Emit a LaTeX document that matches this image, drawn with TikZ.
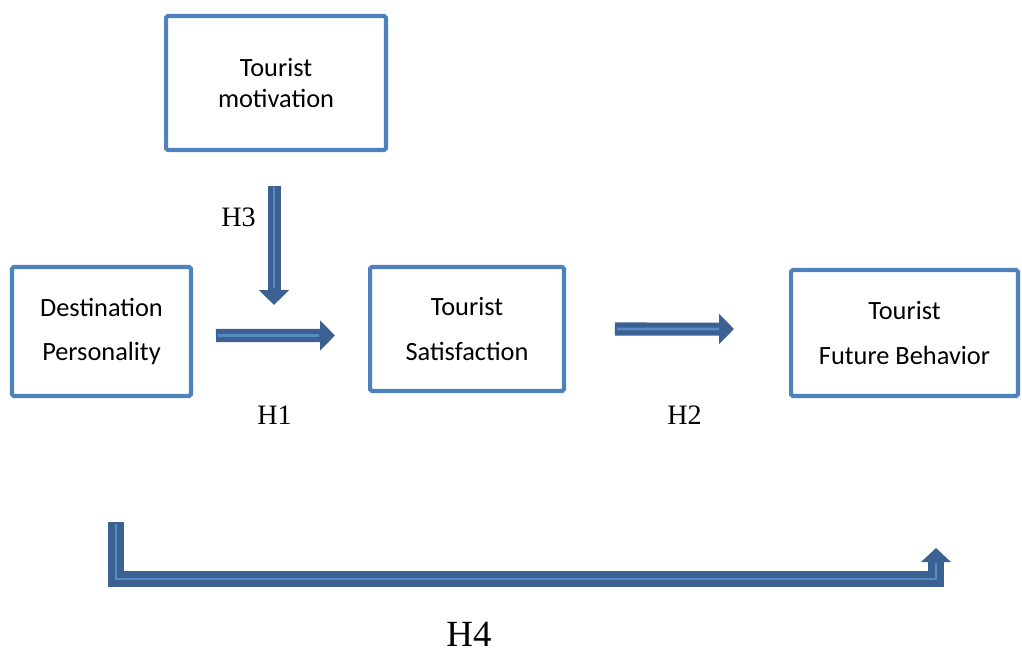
\documentclass[tikz,border=0pt]{standalone}
\usepackage{fontspec}
\setmainfont{Liberation Serif}
\newfontfamily\boxfont{Carlito}
\usetikzlibrary{arrows.meta,calc}
\definecolor{boxblue}{RGB}{79,129,189}
\definecolor{arrowblue}{RGB}{59,96,146}
\definecolor{glintblue}{RGB}{88,138,196}
\tikzset{
  conceptbox/.style={draw=boxblue, line width=2.3pt, rounded corners=1pt,
    fill=white, inner sep=0pt, align=center, text=black},
  tightlines/.style={font=\boxfont\fontsize{15}{18.1}\selectfont},
  widelines/.style={font=\boxfont\fontsize{15}{25.5}\selectfont},
  shaftarrow/.style={draw=arrowblue, line width=7.4pt, line cap=butt,
    -{Triangle[length=8.5pt,width=16.6pt]}},
  elbowarrow/.style={draw=arrowblue, line width=9pt, line cap=butt, line join=miter,
    -{Triangle[length=8pt,width=16.6pt]}},
  glint/.style={draw=glintblue, line width=1.6pt, line cap=butt, line join=miter},
  hyplabel/.style={font=\fontsize{16}{19}\selectfont, inner sep=0pt}
}
\begin{document}
\begin{tikzpicture}[x=0.02cm, y=-0.02cm]
\useasboundingbox (0,0) rectangle (1022,652);

% concept boxes
\node[conceptbox, tightlines, minimum width=4.4cm, minimum height=2.68cm]
  (mot) at (276,83) {Tourist\\motivation};
\node[conceptbox, widelines, minimum width=3.58cm, minimum height=2.58cm]
  (dp) at (101.5,331.5) {Destination\\Personality};
\node[conceptbox, widelines, minimum width=3.88cm, minimum height=2.48cm]
  (sat) at (467,329) {Tourist\\Satisfaction};
\node[conceptbox, widelines, minimum width=4.54cm, minimum height=2.52cm]
  (fb) at (904.5,333) {Tourist\\Future Behavior};

% free ends of the connectors
\coordinate (h3tip) at (274,305);
\coordinate (h4a) at (116,522);
\coordinate (h4b) at (936,579);
\coordinate (h4c) at (936,548);

% H3: motivation onto the H1 path
\draw[shaftarrow, shorten <=0.68cm] (h3tip |- mot.south) -- (h3tip);
\draw[glint, shorten <=0.7cm, shorten >=0.34cm] (h3tip |- mot.south) -- (h3tip);

% H1: personality to satisfaction
\draw[shaftarrow, shorten <=0.46cm, shorten >=0.66cm]
  ([yshift=-0.08cm]dp.east) -- ([yshift=-0.13cm]sat.west);
\draw[glint, shorten <=0.5cm, shorten >=0.98cm]
  ([yshift=-0.08cm]dp.east) -- ([yshift=-0.13cm]sat.west);

% H2: satisfaction to future behavior
\draw[shaftarrow, shorten <=0.98cm, shorten >=1.1cm]
  (sat.east) -- ([yshift=0.08cm]fb.west);
\draw[glint, shorten <=1.02cm, shorten >=1.4cm]
  (sat.east) -- ([yshift=0.08cm]fb.west);

% H4: personality to future behavior, routed below
\draw[elbowarrow] (h4a) |- (h4b) -- (h4c);
\draw[glint, shorten <=0.04cm, shorten >=0.3cm] (h4a) |- (h4b) -- (h4c);

% hypothesis labels
\node[hyplabel] (l3) at (238.5,217.5) {H3};
\node[hyplabel] (l1) at (274.5,415.5) {H1};
\node[hyplabel] (l2) at (684.5,415.5) {H2};
\node[hyplabel, font=\fontsize{21}{25}\selectfont] (l4) at (469,634.5) {H4};
\end{tikzpicture}
\end{document}
